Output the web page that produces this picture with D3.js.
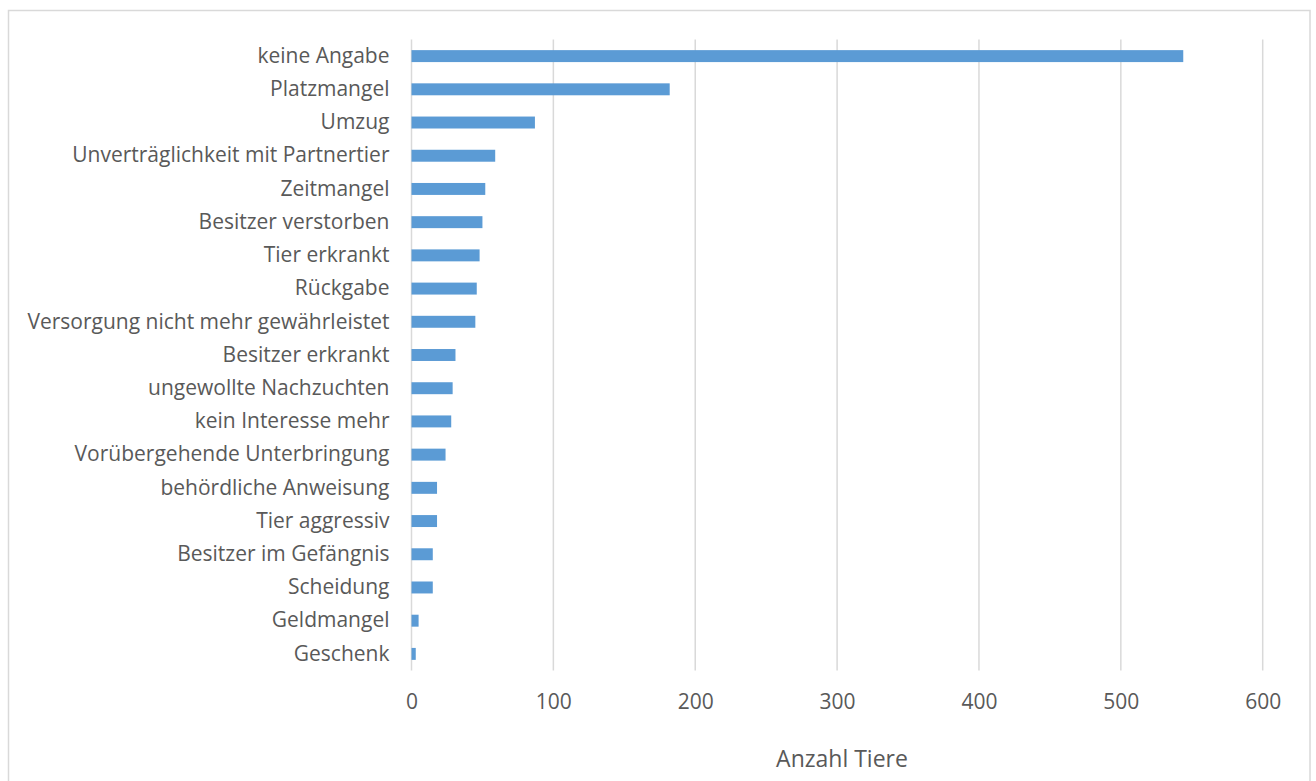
<!DOCTYPE html>
<html><head><meta charset="utf-8">
<script src="https://cdn.jsdelivr.net/npm/d3@7"></script>
<style>body{margin:0;background:#fff;} svg{display:block;}</style>
</head><body>
<svg id="chart" width="1316" height="781"></svg>
<script>
const categories = ["keine Angabe","Platzmangel","Umzug","Unverträglichkeit mit Partnertier","Zeitmangel","Besitzer verstorben","Tier erkrankt","Rückgabe","Versorgung nicht mehr gewährleistet","Besitzer erkrankt","ungewollte Nachzuchten","kein Interesse mehr","Vorübergehende Unterbringung","behördliche Anweisung","Tier aggressiv","Besitzer im Gefängnis","Scheidung","Geldmangel","Geschenk"];
const values = [544,182,87,59,52,50,48,46,45,31,29,28,24,18,18,15,15,5,3];
const xTicks = [0,100,200,300,400,500,600];
const axisTitle = "Anzahl Tiere";

const svg = d3.select("#chart");
const font = "'Open Sans', sans-serif";
const m = {left:411.5, right:1262.7, top:39.5, bottom:670.5};

svg.append("rect").attr("x",8.5).attr("y",10.5).attr("width",1301.5).attr("height",800)
  .attr("fill","#fff").attr("stroke","#d9d9d9").attr("stroke-width",1.5);

const x = d3.scaleLinear().domain([0,600]).range([m.left,m.right]);
const y = d3.scaleBand().domain(categories).range([m.top,m.bottom]).paddingInner(0.64).paddingOuter(0.32);

svg.append("g").selectAll("line").data(xTicks).join("line")
  .attr("x1",d=>x(d)).attr("x2",d=>x(d)).attr("y1",m.top).attr("y2",m.bottom)
  .attr("stroke","#d9d9d9").attr("stroke-width",1.5);

svg.append("g").selectAll("rect").data(values).join("rect")
  .attr("x",x(0)).attr("y",(d,i)=>y(categories[i]))
  .attr("width",d=>x(d)-x(0)).attr("height",y.bandwidth())
  .attr("fill","#5b9bd5");

const xAxis = d3.axisBottom(x).tickValues(xTicks).tickSize(0).tickPadding(0);
const gx = svg.append("g").attr("transform",`translate(0,${m.bottom+31})`).call(xAxis);
gx.select(".domain").remove();
gx.selectAll("text").attr("font-family",font).attr("font-size",21).attr("fill","#595959").attr("dy","0.35em");

const yAxis = d3.axisLeft(y).tickSize(0).tickPadding(22);
const gy = svg.append("g").attr("transform",`translate(${m.left},0)`).call(yAxis);
gy.select(".domain").remove();
gy.selectAll("text").attr("font-family",font).attr("font-size",21).attr("fill","#595959");

svg.append("text").attr("x",842).attr("y",761).attr("text-anchor","middle").attr("dominant-baseline","middle")
  .attr("font-family",font).attr("font-size",23).attr("fill","#595959").text(axisTitle);
</script>
</body></html>
